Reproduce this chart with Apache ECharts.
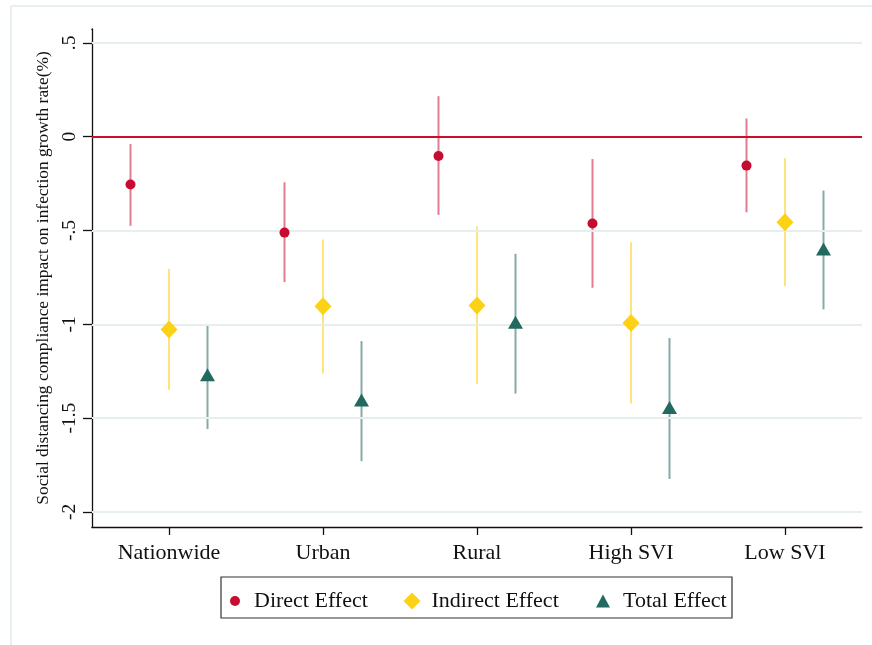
<!DOCTYPE html>
<html>
<head>
<meta charset="utf-8">
<script src="https://cdn.jsdelivr.net/npm/echarts@6/dist/echarts.min.js"></script>
<style>
  html, body { margin: 0; padding: 0; background: #fff; }
  #chart { width: 872px; height: 645px; }
</style>
</head>
<body>
<div id="chart"></div>
<script>
// Groups along the x axis
const categories = ['Nationwide', 'Urban', 'Rural', 'High SVI', 'Low SVI'];

// Point estimates and 95% CI bounds (percentage points)
const directEst   = [-0.255, -0.511, -0.103, -0.463, -0.154];
const directLo    = [-0.475, -0.775, -0.417, -0.805, -0.403];
const directHi    = [-0.039, -0.243,  0.216, -0.119,  0.097];

const indirectEst = [-1.027, -0.904, -0.899, -0.993, -0.456];
const indirectLo  = [-1.348, -1.262, -1.317, -1.422, -0.796];
const indirectHi  = [-0.704, -0.548, -0.479, -0.562, -0.115];

const totalEst    = [-1.280, -1.415, -1.000, -1.455, -0.610];
const totalLo     = [-1.558, -1.729, -1.369, -1.824, -0.920];
const totalHi     = [-1.000, -1.089, -0.624, -1.073, -0.287];

// y-axis ticks and their labels
const yTicks      = [-2, -1.5, -1, -0.5, 0, 0.5];
const yTickLabels = ['-2', '-1.5', '-1', '-.5', '0', '.5'];

const FONT = '"Liberation Serif", "Times New Roman", serif';

const C_DIRECT = '#c60c30', C_DIRECT_CI = '#e27d91';
const C_IND = '#fcd116', C_IND_CI = '#fde47c';
const C_TOT = '#22695f', C_TOT_CI = '#86aba4';
const X_MIN = 0.5, X_MAX = 5.5;

function pts(est, off) {
  return est.map((v, i) => [i + 1 + off, v]);
}
function ci(lo, hi, off) {
  return lo.map((v, i) => [i + 1 + off, v, hi[i]]);
}
function ciSeries(data, color) {
  return {
    type: 'custom',
    xAxisIndex: 1,
    z: 3,
    silent: true,
    data: data,
    encode: { x: 0, y: [1, 2] },
    renderItem: function (params, api) {
      const x = api.value(0);
      const a = api.coord([x, api.value(1)]);
      const b = api.coord([x, api.value(2)]);
      return {
        type: 'line',
        shape: { x1: a[0], y1: a[1], x2: b[0], y2: b[1] },
        style: { stroke: color, lineWidth: 2 }
      };
    }
  };
}

// legend entry whose label sits a fixed distance right of the icon
function legendEntry(name, left, size, textPad) {
  return {
    data: [name],
    left: left,
    top: 590,
    orient: 'horizontal',
    padding: 0,
    itemGap: 0,
    selectedMode: false,
    itemWidth: size[0],
    itemHeight: size[1],
    formatter: '{t|{name}}',
    textStyle: {
      fontFamily: FONT, fontSize: 22, color: '#111',
      rich: { t: { fontFamily: FONT, fontSize: 22, color: '#111', padding: [0, 0, 0, textPad] } }
    }
  };
}

const chart = echarts.init(document.getElementById('chart'), null, { renderer: 'canvas' });

chart.setOption({
  backgroundColor: '#fff',
  animation: false,
  grid: { left: 92, right: 10, top: 29, bottom: 118, containLabel: false },
  xAxis: [
    {
      type: 'category',
      data: categories,
      boundaryGap: true,
      axisLine: { show: true, onZero: false, lineStyle: { color: '#111', width: 1.3 } },
      axisTick: { show: true, alignWithLabel: true, length: 8, lineStyle: { color: '#111', width: 1.3 } },
      axisLabel: { fontFamily: FONT, fontSize: 22, color: '#111', margin: 15 },
      splitLine: { show: false }
    },
    {
      type: 'value',
      min: X_MIN,
      max: X_MAX,
      show: false
    }
  ],
  yAxis: {
    type: 'value',
    min: -2.08,
    max: 0.574,
    splitNumber: 5,
    name: 'Social distancing compliance impact on infection growth rate(%)',
    nameLocation: 'middle',
    nameRotate: 90,
    nameGap: 40,
    nameTextStyle: { fontFamily: FONT, fontSize: 17.4, color: '#111' },
    axisLine: { show: true, onZero: false, lineStyle: { color: '#111', width: 1.3 } },
    axisTick: { show: true, length: 9, lineStyle: { color: '#111', width: 1.3 } },
    axisLabel: {
      rotate: 90,
      margin: 12,
      fontFamily: FONT,
      fontSize: 19.5,
      color: '#111',
      formatter: function (v) {
        const i = yTicks.findIndex(t => Math.abs(t - v) < 1e-9);
        return i >= 0 ? yTickLabels[i] : '';
      }
    },
    splitLine: { show: false }
  },
  legend: [
    legendEntry('Direct Effect', 230, [10, 10], 9),
    legendEntry('Indirect Effect', 403.5, [17, 17], 6),
    legendEntry('Total Effect', 596, [14, 13], 8)
  ],
  graphic: [
    // legend frame
    { type: 'rect', shape: { x: 221, y: 577, width: 511, height: 41 },
      style: { fill: 'none', stroke: '#333', lineWidth: 1.2 }, z: 0 },
    // outer graph region frame
    { type: 'line', shape: { x1: 11, y1: 6, x2: 872, y2: 6 },
      style: { stroke: '#e8efef', lineWidth: 2 } },
    { type: 'line', shape: { x1: 11, y1: 6, x2: 11, y2: 645 },
      style: { stroke: '#e8efef', lineWidth: 2 } },
    // blank out the tick stubs at the two ends of the y range
    { type: 'rect', z: 100, silent: true, shape: { x: 78, y: 26, width: 13.3, height: 6 },
      style: { fill: '#fff' } },
    { type: 'rect', z: 100, silent: true, shape: { x: 78, y: 524, width: 13.3, height: 6 },
      style: { fill: '#fff' } }
  ],
  series: [
    // horizontal gridlines and the zero reference line
    {
      type: 'scatter',
      xAxisIndex: 1,
      data: [],
      z: 1,
      silent: true,
      markLine: {
        silent: true,
        symbol: ['none', 'none'],
        label: { show: false },
        animation: false,
        data: yTicks.filter(v => v !== 0).map(v => ({
          yAxis: v, lineStyle: { color: '#e6eeee', width: 2, type: 'solid' }
        })).concat([{
          yAxis: 0, lineStyle: { color: '#c8102e', width: 2, type: 'solid' }
        }])
      }
    },
    ciSeries(ci(directLo, directHi, -0.25), C_DIRECT_CI),
    ciSeries(ci(indirectLo, indirectHi, 0), C_IND_CI),
    ciSeries(ci(totalLo, totalHi, 0.25), C_TOT_CI),
    {
      name: 'Direct Effect',
      type: 'scatter',
      xAxisIndex: 1,
      z: 5,
      symbol: 'circle',
      symbolSize: 10,
      itemStyle: { color: C_DIRECT, opacity: 1 },
      data: pts(directEst, -0.25)
    },
    {
      name: 'Indirect Effect',
      type: 'scatter',
      xAxisIndex: 1,
      z: 5,
      symbol: 'diamond',
      symbolSize: [17, 18],
      itemStyle: { color: C_IND, opacity: 1 },
      data: pts(indirectEst, 0)
    },
    {
      name: 'Total Effect',
      type: 'scatter',
      xAxisIndex: 1,
      z: 5,
      symbol: 'triangle',
      symbolSize: [15, 13],
      symbolOffset: [0, -2.2],
      itemStyle: { color: C_TOT, opacity: 1 },
      data: pts(totalEst, 0.25)
    }
  ]
});
</script>
</body>
</html>
